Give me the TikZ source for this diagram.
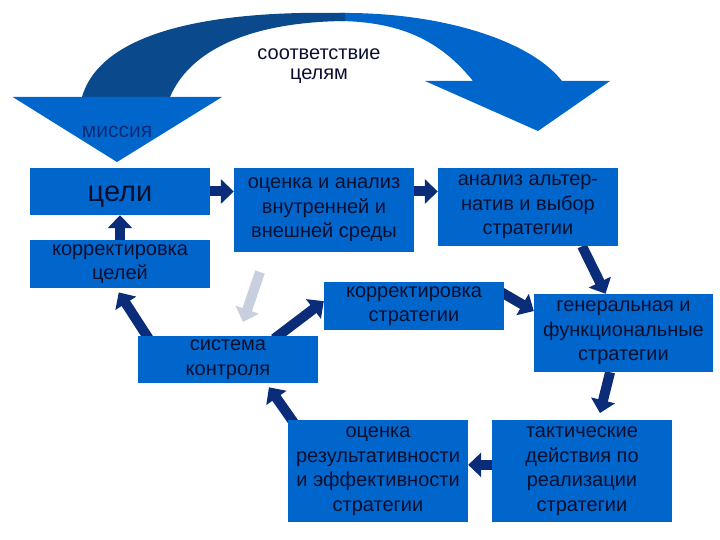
\documentclass[tikz,border=0pt]{standalone}
\usepackage{fontspec}
\setmainfont{Liberation Sans}
\usetikzlibrary{arrows.meta,calc,backgrounds}
\definecolor{boxblue}{HTML}{0066CC}
\definecolor{bandnavy}{HTML}{0A4A8C}
\definecolor{arrnavy}{HTML}{0B2C78}
\definecolor{txtnavy}{HTML}{0A0F2E}
\definecolor{ghost}{HTML}{C8D0E0}

\begin{document}
\begin{tikzpicture}[x=1pt,y=-1pt,
    box/.style={fill=boxblue,text=txtnavy,align=center,inner sep=0pt,minimum width=180pt,font=\fontsize{20}{24.5}\selectfont,
        execute at begin node={\rule{0pt}{21pt}}},
    flow/.style={draw=arrnavy,line width=10pt,-{Triangle[width=24pt,length=13pt]}}]
    \useasboundingbox (0,0) rectangle (720,540);

    % big curved arrow on top
    \fill[boxblue] (340,13) .. controls (440,12) and (530,40) .. (562,81) -- (610,81) -- (538,131)
        -- (425,81) -- (473,81) .. controls (440,40) and (400,22) .. (340,21) -- cycle;
    \fill[bandnavy] (82,97) .. controls (100,35) and (200,10) .. (345,13) -- (345,21)
        .. controls (250,22) and (190,50) .. (170,97) -- cycle;
    \fill[boxblue] (12.7,97) -- (222,97) -- (117,162) -- cycle;
    \node[text=arrnavy,font=\fontsize{21}{24}\selectfont] (mission) at (117,132) {миссия};
    \node[text=txtnavy,align=center,font=\fontsize{20}{20.5}\selectfont] (match) at (319,66) {соответствие\\целям};

    % boxes
    \node[box,minimum height=47pt,font=\fontsize{29}{32}\selectfont] (celi) at (120,191.5) {\rule{0pt}{26pt}цели};
    \node[box,minimum height=48pt] (korrcel) at (120,264) {корректировка\\целей};
    \node[box,minimum height=84pt] (ocenka) at (324,210) {оценка и анализ\\внутренней и\\внешней среды};
    \node[box,minimum height=78pt] (analiz) at (528,207) {анализ альтер-\\натив и выбор\\стратегии};
    \node[box,minimum height=48pt] (korrstr) at (414,306) {корректировка\\стратегии};
    \node[box,minimum height=78pt,minimum width=179pt] (general) at (623.5,333) {генеральная и\\функциональные\\стратегии};
    \node[box,minimum height=47pt] (sistema) at (228,359.5) {система\\контроля};
    \node[box,minimum height=102pt] (rezult) at (378,471) {оценка\\результативности\\и эффективности\\стратегии};
    \node[box,minimum height=102pt] (taktika) at (582,471) {тактические\\действия по\\реализации\\стратегии};

    \coordinate (gtop) at (260,272);
    \coordinate (gtip) at (243,322);

    % connectors
    \begin{scope}[on background layer]
        \draw[flow] (celi.east) -- (ocenka.west |- celi);
        \draw[flow] (ocenka.east |- celi) -- (analiz.west |- celi);
        \draw[flow] (korrcel.north) -- (celi.south);
        \draw[flow] ($(analiz.south west)!0.8!(analiz.south east)$) -- ($(general.north west)!0.4!(general.north east)$);
        \draw[flow,shorten >=7pt] ($(general.south west)!0.425!(general.south east)$) -- ($(taktika.north west)!0.59!(taktika.north east)$);
        \draw[flow] ($(taktika.north west)!0.44!(taktika.south west)$) -- ($(rezult.north east)!0.44!(rezult.south east)$);
        \draw[flow,shorten >=5pt,shorten <=-5pt] ($(rezult.north west)!0.022!(rezult.north east)$) -- ($(sistema.south west)!0.711!(sistema.south east)$);
        \draw[flow,shorten <=-5pt] ($(sistema.north west)!0.778!(sistema.north east)$) -- ($(korrstr.north west)!0.4!(korrstr.south west)$);
        \draw[flow,shorten <=-5pt] ($(korrstr.north east)!0.25!(korrstr.south east)$) -- ($(general.north west)!0.22!(general.south west)$);
        \draw[flow,shorten >=5pt,shorten <=-5pt] ($(sistema.north west)!0.05!(sistema.north east)$) -- ($(korrcel.south west)!0.478!(korrcel.south east)$);
        \draw[flow,draw=ghost] (gtop) -- (gtip);
    \end{scope}
\end{tikzpicture}
\end{document}
